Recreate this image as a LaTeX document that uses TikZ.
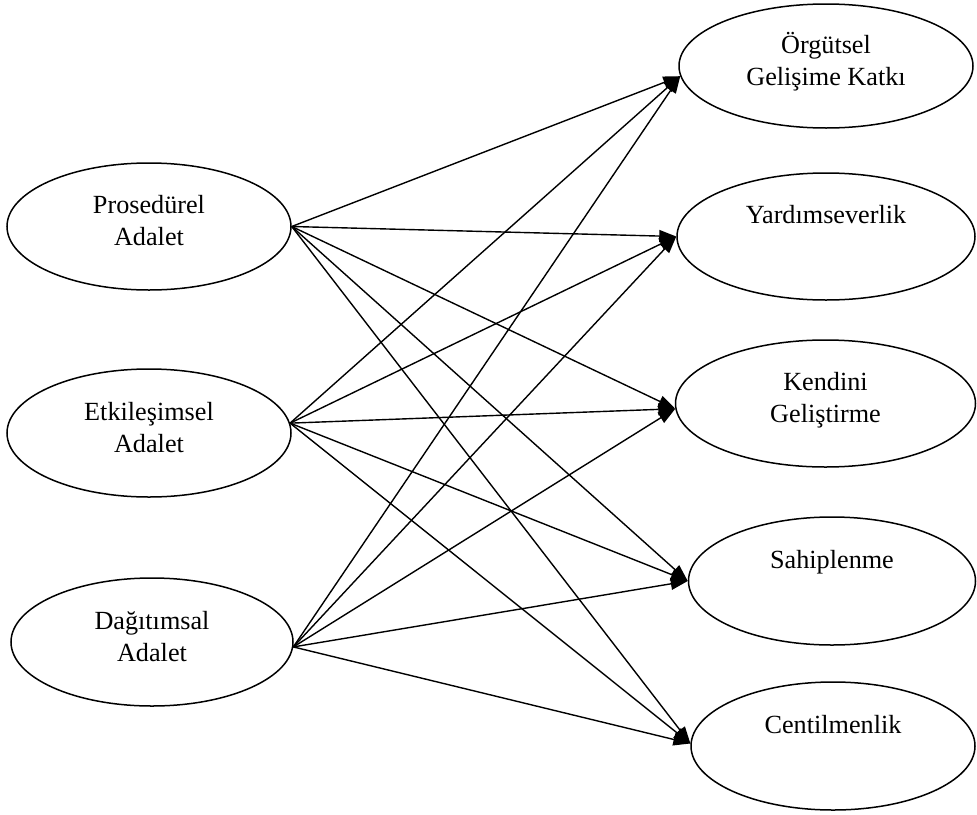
\documentclass[tikz,border=0pt]{standalone}
\usepackage{fontspec}
\setmainfont{Liberation Serif}
\usetikzlibrary{shapes.geometric,arrows.meta}
\newcommand{\twolines}[2]{\smash{\raisebox{-19pt}{\begin{tabular}[b]{@{}c@{}}#1\\#2\end{tabular}}}}
\newcommand{\oneline}[1]{\smash{\raisebox{13pt}{#1}}}
\begin{document}
\begin{tikzpicture}[x=1pt,y=-1pt,
  ell/.style={ellipse,draw,line width=1.5pt,inner sep=0pt,
    font=\fontsize{26.2}{32}\selectfont},
  arr/.style={-{Triangle[length=17pt,width=12pt]},line width=1.4pt}]
\useasboundingbox (0,0) rectangle (977,814);
% left
\node[ell,minimum width=284pt,minimum height=127pt] (p) at (149,226.5) {\twolines{Prosedürel}{Adalet}};
\node[ell,minimum width=284pt,minimum height=128pt] (e) at (149,433) {\twolines{Etkileşimsel}{Adalet}};
\node[ell,minimum width=282pt,minimum height=128pt] (d) at (152,642) {\twolines{Dağıtımsal}{Adalet}};
% right
\node[ell,minimum width=294pt,minimum height=124pt] (o) at (826,66) {\twolines{Örgütsel}{Gelişime Katkı}};
\node[ell,minimum width=298pt,minimum height=127pt] (y) at (826,236.5) {\oneline{Yardımseverlik}};
\node[ell,minimum width=300pt,minimum height=127pt] (k) at (825.5,403.5) {\twolines{Kendini}{Geliştirme}};
\node[ell,minimum width=287pt,minimum height=128pt] (s) at (832,581) {\oneline{Sahiplenme}};
\node[ell,minimum width=284pt,minimum height=128pt] (c) at (833,746) {\oneline{Centilmenlik}};
% connectors
\foreach \src/\a in {p/0,e/4,d/358}
  \foreach \tgt/\b in {o/184,y/180,k/182,s/180,c/179}
    \draw[arr] (\src.\a) -- (\tgt.\b);
\end{tikzpicture}
\end{document}
